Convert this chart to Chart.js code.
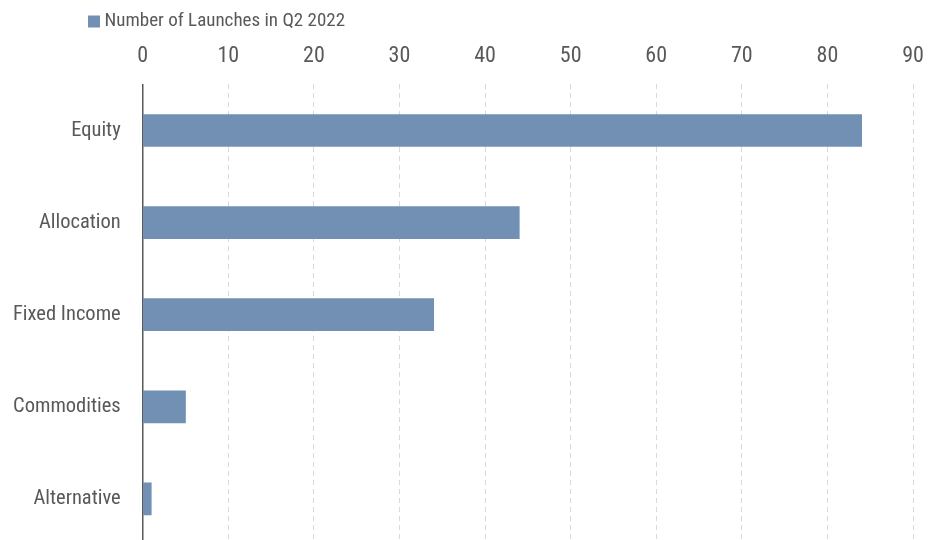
<!DOCTYPE html>
<html>
<head>
<meta charset="utf-8">
<script src="https://cdn.jsdelivr.net/npm/chart.js@4"></script>
<style>
  html, body { margin: 0; padding: 0; background: #fff; overflow: hidden; }
  canvas { display: block; }
</style>
</head>
<body>
<canvas id="launchesGraph" width="934" height="546"></canvas>
<script>
const categories = ["Equity", "Allocation", "Fixed Income", "Commodities", "Alternative"];
const launches = [84, 44, 34, 5, 1];
const seriesLabel = "Number of Launches in Q2 2022";
const xTicks = [0, 10, 20, 30, 40, 50, 60, 70, 80, 90];

const fontFamily = "'Liberation Sans Narrow', 'Roboto Condensed', 'Arial Narrow', Roboto, sans-serif";
const textColor = "#595959";

// shift the legend to the right so it sits above the y labels
const legendShift = {
    id: "legendShift",
    afterLayout(chart) {
        chart.legend.left += 79;
        chart.legend.right += 79;
    }
};

const config = {
    type: "bar",
    data: {
        labels: categories,
        datasets: [{
            label: seriesLabel,
            data: launches,
            backgroundColor: "#7190b4",
            borderWidth: 0,
            barThickness: 32
        }]
    },
    options: {
        indexAxis: "y",
        responsive: false,
        animation: false,
        layout: { padding: { left: 8, right: 21, top: 6, bottom: 1 } },
        plugins: {
            legend: {
                position: "top",
                align: "start",
                labels: {
                    usePointStyle: true,
                    pointStyle: "rect",
                    boxWidth: 2,
                    boxHeight: 12,
                    padding: 6,
                    color: textColor,
                    font: { family: fontFamily, size: 19 }
                }
            },
            tooltip: { enabled: false }
        },
        scales: {
            x: {
                position: "top",
                min: 0,
                max: 90,
                afterBuildTicks: (axis) => {
                    axis.ticks = xTicks.map(v => ({ value: v }));
                },
                afterFit: (axis) => {
                    axis.height -= 13;
                    axis.paddingLeft = 0;
                    axis.paddingRight = 0;
                },
                ticks: {
                    color: textColor,
                    padding: 15,
                    font: { family: fontFamily, size: 22 }
                },
                grid: {
                    color: "#d9d9d9",
                    lineWidth: 1,
                    drawTicks: false
                },
                border: { display: false, dash: [5, 4] }
            },
            y: {
                afterFit: (axis) => {
                    axis.width -= 17;
                    axis.paddingTop = 0;
                    axis.paddingBottom = 0;
                },
                ticks: {
                    color: textColor,
                    padding: 22,
                    font: { family: fontFamily, size: 20.5 }
                },
                grid: { display: false, drawTicks: false },
                border: { display: true, color: "#595959", width: 1.5 }
            }
        }
    },
    plugins: [legendShift]
};

const launchesGraph = new Chart("launchesGraph", config);
</script>
</body>
</html>
